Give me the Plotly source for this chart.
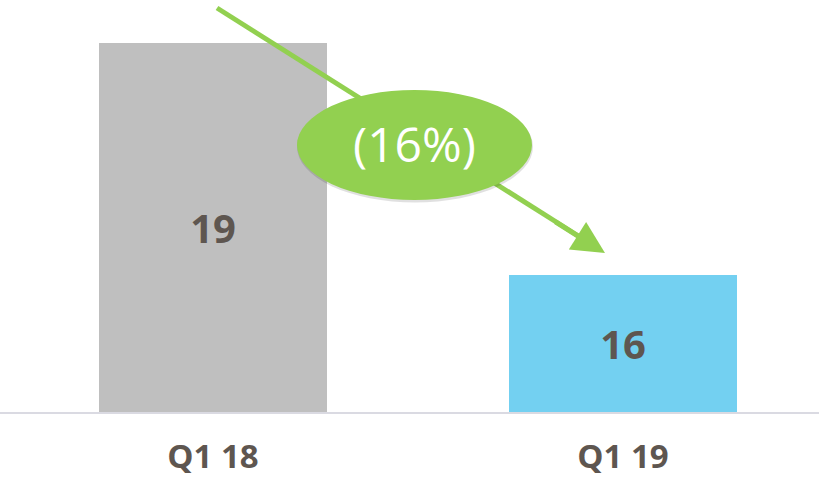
import plotly.graph_objects as go

quarters = ['Q1 18', 'Q1 19']
values = [19, 16]
bar_colors = ['#bfbfbf', '#73d0f1']
change_label = '(16%)'

# value axis does not start at zero in the original slide
y_floor = 14.24
y_top = 19.55

W, H = 819, 477
M_B = 65
PLOT_H = H - M_B
GREEN = '#92d050'
TEXT = '#5e5650'


def px(x):
    return x / W


def py(y):
    return (PLOT_H - y) / PLOT_H


fig = go.Figure()
fig.add_trace(go.Bar(
    x=quarters, y=[v - y_floor for v in values], base=y_floor,
    marker=dict(color=bar_colors, line=dict(width=0)), width=0.556,
    text=[str(v) for v in values], textposition='inside', insidetextanchor='middle',
    textfont=dict(family='Open Sans', size=40, color=TEXT, weight='bold'),
    hoverinfo='skip', cliponaxis=False))

# arrow shaft, then the ellipse on top of it
tail = (217, 8)
head = (605, 253)
shaft_end = (580, 237)
fig.add_shape(type='line', xref='paper', yref='paper', layer='above',
              x0=px(tail[0]), y0=py(tail[1]), x1=px(shaft_end[0]), y1=py(shaft_end[1]),
              line=dict(color=GREEN, width=5))
fig.add_shape(type='circle', xref='paper', yref='paper', layer='above',
              x0=px(297), x1=px(533), y0=py(202.5), y1=py(91),
              fillcolor='rgba(0,0,0,0.12)', line=dict(width=0))
fig.add_shape(type='circle', xref='paper', yref='paper', layer='above',
              x0=px(297), x1=px(532), y0=py(200), y1=py(90),
              fillcolor=GREEN, line=dict(width=0))
fig.add_annotation(xref='paper', yref='paper', x=px(head[0]), y=py(head[1]),
                   ax=-51, ay=-32, text='', showarrow=True,
                   arrowhead=2, arrowsize=1.3, arrowwidth=5, arrowcolor=GREEN)
fig.add_annotation(xref='paper', yref='paper', x=px(414), y=py(144),
                   text=change_label, showarrow=False,
                   font=dict(family='Open Sans', size=48, color='white'))

fig.update_xaxes(range=[-0.5195, 1.478], showline=True, linecolor='#dadae2', linewidth=2,
                 showgrid=False, zeroline=False, ticks='', ticklabelstandoff=14, automargin=False,
                 tickfont=dict(family='Open Sans', size=33, color=TEXT, weight='bold'))
fig.update_yaxes(range=[y_floor, y_top], visible=False, automargin=False)
fig.update_layout(width=W, height=H, margin=dict(l=0, r=0, t=0, b=M_B, autoexpand=False),
                  plot_bgcolor='white', paper_bgcolor='white', showlegend=False,
                  bargap=0)

fig.write_html('out.html', config={'displayModeBar': False},
               post_script="document.body.style.margin='0';")
